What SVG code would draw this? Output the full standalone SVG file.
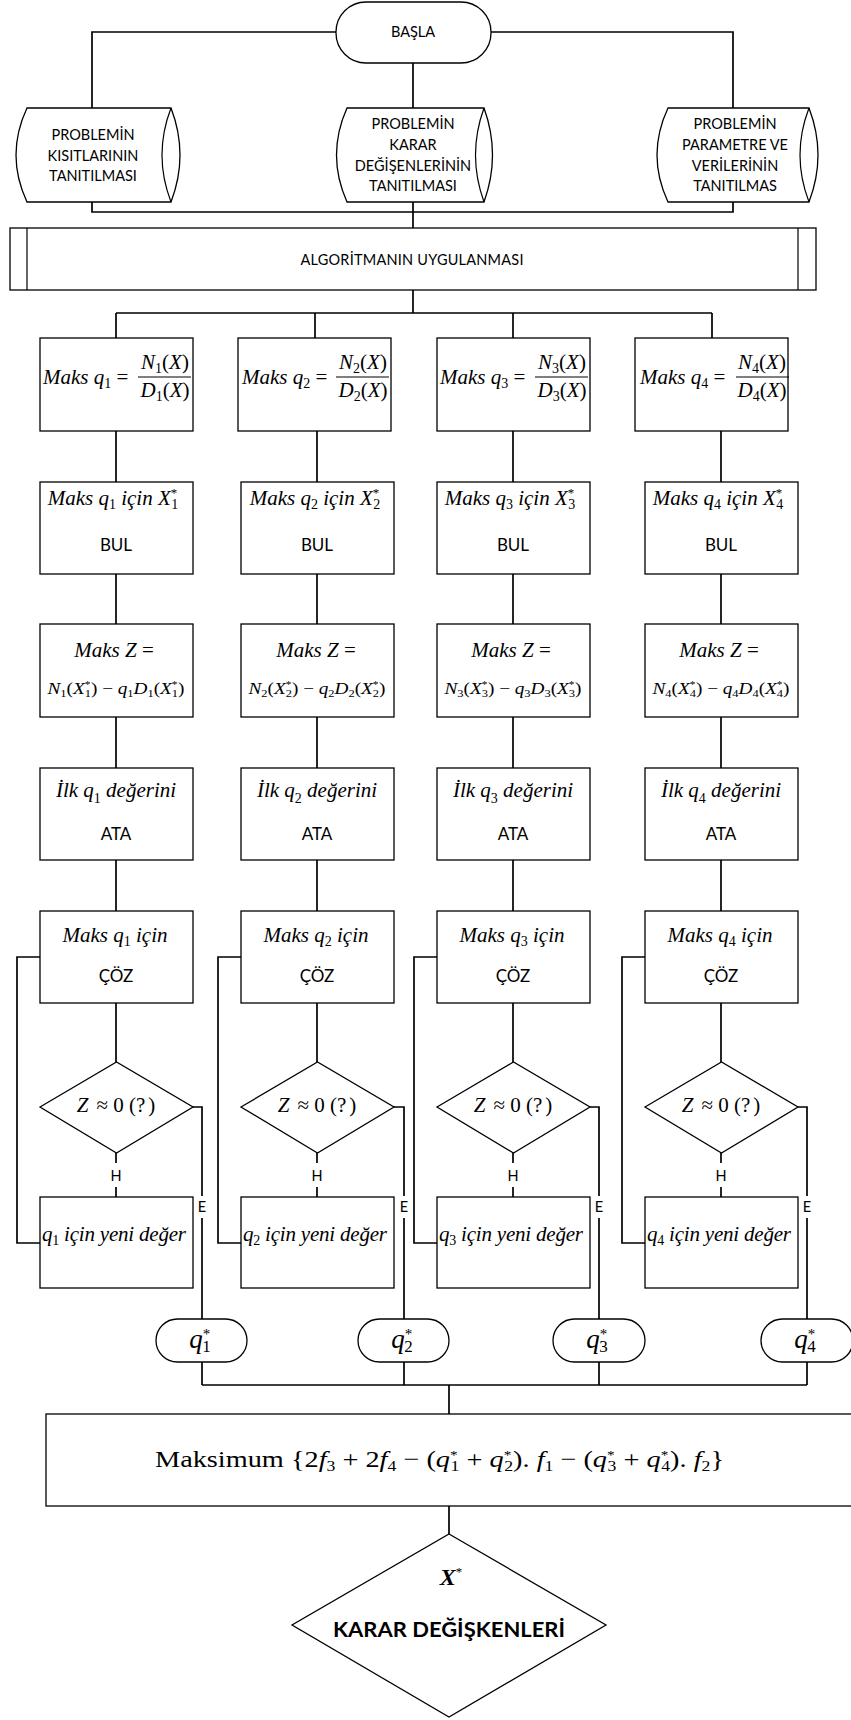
<svg xmlns="http://www.w3.org/2000/svg" width="851" height="1720" viewBox="0 0 851 1720">
<defs>
<style>
.bx{fill:#fff;stroke:#000;stroke-width:1.3}
.ln{fill:none;stroke:#000;stroke-width:1.7}
.th{fill:none;stroke:#000;stroke-width:1.2}
.s{font-family:Lato,"Open Sans","Liberation Sans",sans-serif;font-size:14.5px;fill:#000}
.s17{font-family:Lato,"Open Sans","Liberation Sans",sans-serif;font-size:17px;fill:#000}
.mu{font-family:"Liberation Serif","DejaVu Serif",serif;font-size:21px;fill:#000}
.i{font-style:italic}
.f10{font-size:10px}.f11{font-size:11px}.f13{font-size:13px}.f14{font-size:14px}.f15{font-size:15px}.f17{font-size:17px}
.mid{text-anchor:middle}
</style>
</defs>
<rect width="851" height="1720" fill="#fff"/>

<g id="connectors">
<path class="ln" d="M336 32H92V108M491 32H733V108M413 63V108"/>
<path class="ln" d="M92 202V212H733V202M413 202V228"/>
<path class="ln" d="M413 290V313M116 313H712M116 313V338M315 313V338M513 313V338M712 313V338"/>
<path class="ln" d="M116 431V482M116 574V624M116 717V768M116 860V911M116 1003V1062M116 1153V1163M116 1187V1197"/>
<path class="ln" d="M317 431V482M317 574V624M317 717V768M317 860V911M317 1003V1062M317 1153V1163M317 1187V1197"/>
<path class="ln" d="M513 431V482M513 574V624M513 717V768M513 860V911M513 1003V1062M513 1153V1163M513 1187V1197"/>
<path class="ln" d="M721 431V482M721 574V624M721 717V768M721 860V911M721 1003V1062M721 1153V1163M721 1187V1197"/>
<path class="ln" d="M40 1243H17V957H40M241 1243H218V957H241M437 1243H414V957H437M645 1243H622V957H645"/>
<path class="ln" d="M193 1107H202V1196M202 1218V1319M394 1107H404V1196M404 1218V1319M590 1107H599V1196M599 1218V1319M798 1107H807V1196M807 1218V1319"/>
<path class="ln" d="M202 1362V1385M404 1362V1385M599 1362V1385M807 1362V1385M202 1385H807M449 1385V1414M449 1506V1534"/>
</g>

<g id="basla">
<rect class="bx" x="336" y="2" width="155" height="61" rx="30"/>
<text class="s mid" x="413" y="37">BAŞLA</text>
</g>

<g id="kisit">
<path class="bx" d="M27 108H171Q189 155 171 202H27Q5 155 27 108Z"/>
<path class="th" d="M171 108Q153 155 171 202"/>
<text class="s mid" x="93" y="140">PROBLEMİN</text>
<text class="s mid" x="93" y="161">KISITLARININ</text>
<text class="s mid" x="93" y="181">TANITILMASI</text>
</g>
<g id="karar">
<path class="bx" d="M347 108H484Q501 155 484 202H347Q326 155 347 108Z"/>
<path class="th" d="M484 108Q467 155 484 202"/>
<text class="s mid" x="413" y="129">PROBLEMİN</text>
<text class="s mid" x="413" y="150">KARAR</text>
<text class="s mid" x="413" y="171">DEĞİŞENLERİNİN</text>
<text class="s mid" x="413" y="191">TANITILMASI</text>
</g>
<g id="param">
<path class="bx" d="M668 108H809Q827 155 809 202H668Q646 155 668 108Z"/>
<path class="th" d="M809 108Q791 155 809 202"/>
<text class="s mid" x="735" y="129">PROBLEMİN</text>
<text class="s mid" x="735" y="150">PARAMETRE VE</text>
<text class="s mid" x="735" y="171">VERİLERİNİN</text>
<text class="s mid" x="735" y="191">TANITILMAS</text>
</g>

<g id="algoritma">
<rect class="bx" x="10" y="228" width="806" height="62"/>
<path class="th" d="M27 228V290M798 228V290"/>
<text class="s mid" x="412" y="265" textLength="223">ALGORİTMANIN UYGULANMASI</text>
</g>

<!-- column 1 -->
<g id="c1-oran">
<rect class="bx" x="40" y="338" width="153" height="93"/>
<text class="mu" x="43" y="384"><tspan class="i">Maks q</tspan><tspan class="f14" dy="4">1</tspan><tspan dy="-4"> =</tspan></text>
<text class="mu mid" x="165" y="369"><tspan class="i">N</tspan><tspan class="f14" dy="4">1</tspan><tspan dy="-4">(</tspan><tspan class="i">X</tspan>)</text>
<path class="th" d="M138 377H191"/>
<text class="mu mid" x="165" y="397"><tspan class="i">D</tspan><tspan class="f14" dy="4">1</tspan><tspan dy="-4">(</tspan><tspan class="i">X</tspan>)</text>
</g>
<g id="c1-bul">
<rect class="bx" x="40" y="482" width="153" height="92"/>
<text class="mu mid" x="113" y="505"><tspan class="i">Maks q</tspan><tspan class="f14" dy="4">1</tspan><tspan class="i" dy="-4"> için X</tspan><tspan class="f13" dy="-8">*</tspan><tspan class="f14" dx="-6" dy="12">1</tspan></text>
<text class="s17 mid" x="116" y="551">BUL</text>
</g>
<g id="c1-z">
<rect class="bx" x="40" y="624" width="153" height="93"/>
<text class="mu mid" x="114" y="657"><tspan class="i">Maks Z</tspan> =</text>
<text class="mu mid" style="font-size:17px" x="116" y="694" textLength="137" lengthAdjust="spacingAndGlyphs"><tspan class="i">N</tspan><tspan class="f11" dy="3">1</tspan><tspan dy="-3">(</tspan><tspan class="i">X</tspan><tspan class="f10" dy="-6">*</tspan><tspan class="f11" dx="-5" dy="9">1</tspan><tspan dy="-3">) − </tspan><tspan class="i">q</tspan><tspan class="f11" dy="3">1</tspan><tspan class="i" dy="-3">D</tspan><tspan class="f11" dy="3">1</tspan><tspan dy="-3">(</tspan><tspan class="i">X</tspan><tspan class="f10" dy="-6">*</tspan><tspan class="f11" dx="-5" dy="9">1</tspan><tspan dy="-3">)</tspan></text>
</g>
<g id="c1-ata">
<rect class="bx" x="40" y="768" width="153" height="92"/>
<text class="mu mid" x="116" y="797"><tspan class="i">İlk q</tspan><tspan class="f14" dy="6">1</tspan><tspan class="i" dy="-6"> değerini</tspan></text>
<text class="s17 mid" x="116" y="840">ATA</text>
</g>
<g id="c1-coz">
<rect class="bx" x="40" y="911" width="153" height="92"/>
<text class="mu mid" x="115" y="942"><tspan class="i">Maks q</tspan><tspan class="f14" dy="4">1</tspan><tspan class="i" dy="-4"> için</tspan></text>
<text class="s17 mid" x="116" y="982">ÇÖZ</text>
</g>
<g id="c1-karar">
<path class="bx" d="M40 1107L116.5 1062L193 1107L116.5 1153Z"/>
<text class="mu mid" x="116" y="1112"><tspan class="i">Z</tspan><tspan dx="8">≈ 0 (?</tspan><tspan dx="3">)</tspan></text>
</g>
<g id="c1-yeni">
<rect class="bx" x="40" y="1197" width="153" height="91"/>
<text class="mu" x="42" y="1241" textLength="144"><tspan class="i">q</tspan><tspan class="f14" dy="4">1</tspan><tspan class="i" dy="-4"> için yeni değer</tspan></text>
</g>
<g id="c1-q">
<rect class="bx" x="156" y="1319" width="91" height="43" rx="21.5"/>
<text class="mu mid" style="font-size:27px" x="200" y="1348"><tspan class="i">q</tspan><tspan class="f15" dy="-9">*</tspan><tspan class="f17" dx="-8" dy="13">1</tspan></text>
</g>

<!-- column 2 -->
<g id="c2-oran">
<rect class="bx" x="238" y="338" width="153" height="93"/>
<text class="mu" x="242" y="384"><tspan class="i">Maks q</tspan><tspan class="f14" dy="4">2</tspan><tspan dy="-4"> =</tspan></text>
<text class="mu mid" x="363" y="369"><tspan class="i">N</tspan><tspan class="f14" dy="4">2</tspan><tspan dy="-4">(</tspan><tspan class="i">X</tspan>)</text>
<path class="th" d="M336 377H389"/>
<text class="mu mid" x="363" y="397"><tspan class="i">D</tspan><tspan class="f14" dy="4">2</tspan><tspan dy="-4">(</tspan><tspan class="i">X</tspan>)</text>
</g>
<g id="c2-bul">
<rect class="bx" x="241" y="482" width="153" height="92"/>
<text class="mu mid" x="315" y="505"><tspan class="i">Maks q</tspan><tspan class="f14" dy="4">2</tspan><tspan class="i" dy="-4"> için X</tspan><tspan class="f13" dy="-8">*</tspan><tspan class="f14" dx="-6" dy="12">2</tspan></text>
<text class="s17 mid" x="317" y="551">BUL</text>
</g>
<g id="c2-z">
<rect class="bx" x="241" y="624" width="153" height="93"/>
<text class="mu mid" x="316" y="657"><tspan class="i">Maks Z</tspan> =</text>
<text class="mu mid" style="font-size:17px" x="317" y="694" textLength="137" lengthAdjust="spacingAndGlyphs"><tspan class="i">N</tspan><tspan class="f11" dy="3">2</tspan><tspan dy="-3">(</tspan><tspan class="i">X</tspan><tspan class="f10" dy="-6">*</tspan><tspan class="f11" dx="-5" dy="9">2</tspan><tspan dy="-3">) − </tspan><tspan class="i">q</tspan><tspan class="f11" dy="3">2</tspan><tspan class="i" dy="-3">D</tspan><tspan class="f11" dy="3">2</tspan><tspan dy="-3">(</tspan><tspan class="i">X</tspan><tspan class="f10" dy="-6">*</tspan><tspan class="f11" dx="-5" dy="9">2</tspan><tspan dy="-3">)</tspan></text>
</g>
<g id="c2-ata">
<rect class="bx" x="241" y="768" width="153" height="92"/>
<text class="mu mid" x="317" y="797"><tspan class="i">İlk q</tspan><tspan class="f14" dy="6">2</tspan><tspan class="i" dy="-6"> değerini</tspan></text>
<text class="s17 mid" x="317" y="840">ATA</text>
</g>
<g id="c2-coz">
<rect class="bx" x="241" y="911" width="153" height="92"/>
<text class="mu mid" x="316" y="942"><tspan class="i">Maks q</tspan><tspan class="f14" dy="4">2</tspan><tspan class="i" dy="-4"> için</tspan></text>
<text class="s17 mid" x="317" y="982">ÇÖZ</text>
</g>
<g id="c2-karar">
<path class="bx" d="M241 1107L317.5 1062L394 1107L317.5 1153Z"/>
<text class="mu mid" x="317" y="1112"><tspan class="i">Z</tspan><tspan dx="8">≈ 0 (?</tspan><tspan dx="3">)</tspan></text>
</g>
<g id="c2-yeni">
<rect class="bx" x="241" y="1197" width="153" height="91"/>
<text class="mu" x="243" y="1241" textLength="144"><tspan class="i">q</tspan><tspan class="f14" dy="4">2</tspan><tspan class="i" dy="-4"> için yeni değer</tspan></text>
</g>
<g id="c2-q">
<rect class="bx" x="358" y="1319" width="91" height="43" rx="21.5"/>
<text class="mu mid" style="font-size:27px" x="402" y="1348"><tspan class="i">q</tspan><tspan class="f15" dy="-9">*</tspan><tspan class="f17" dx="-8" dy="13">2</tspan></text>
</g>

<!-- column 3 -->
<g id="c3-oran">
<rect class="bx" x="437" y="338" width="153" height="93"/>
<text class="mu" x="440" y="384"><tspan class="i">Maks q</tspan><tspan class="f14" dy="4">3</tspan><tspan dy="-4"> =</tspan></text>
<text class="mu mid" x="562" y="369"><tspan class="i">N</tspan><tspan class="f14" dy="4">3</tspan><tspan dy="-4">(</tspan><tspan class="i">X</tspan>)</text>
<path class="th" d="M535 377H588"/>
<text class="mu mid" x="562" y="397"><tspan class="i">D</tspan><tspan class="f14" dy="4">3</tspan><tspan dy="-4">(</tspan><tspan class="i">X</tspan>)</text>
</g>
<g id="c3-bul">
<rect class="bx" x="437" y="482" width="153" height="92"/>
<text class="mu mid" x="510" y="505"><tspan class="i">Maks q</tspan><tspan class="f14" dy="4">3</tspan><tspan class="i" dy="-4"> için X</tspan><tspan class="f13" dy="-8">*</tspan><tspan class="f14" dx="-6" dy="12">3</tspan></text>
<text class="s17 mid" x="513" y="551">BUL</text>
</g>
<g id="c3-z">
<rect class="bx" x="437" y="624" width="153" height="93"/>
<text class="mu mid" x="511" y="657"><tspan class="i">Maks Z</tspan> =</text>
<text class="mu mid" style="font-size:17px" x="513" y="694" textLength="137" lengthAdjust="spacingAndGlyphs"><tspan class="i">N</tspan><tspan class="f11" dy="3">3</tspan><tspan dy="-3">(</tspan><tspan class="i">X</tspan><tspan class="f10" dy="-6">*</tspan><tspan class="f11" dx="-5" dy="9">3</tspan><tspan dy="-3">) − </tspan><tspan class="i">q</tspan><tspan class="f11" dy="3">3</tspan><tspan class="i" dy="-3">D</tspan><tspan class="f11" dy="3">3</tspan><tspan dy="-3">(</tspan><tspan class="i">X</tspan><tspan class="f10" dy="-6">*</tspan><tspan class="f11" dx="-5" dy="9">3</tspan><tspan dy="-3">)</tspan></text>
</g>
<g id="c3-ata">
<rect class="bx" x="437" y="768" width="153" height="92"/>
<text class="mu mid" x="513" y="797"><tspan class="i">İlk q</tspan><tspan class="f14" dy="6">3</tspan><tspan class="i" dy="-6"> değerini</tspan></text>
<text class="s17 mid" x="513" y="840">ATA</text>
</g>
<g id="c3-coz">
<rect class="bx" x="437" y="911" width="153" height="92"/>
<text class="mu mid" x="512" y="942"><tspan class="i">Maks q</tspan><tspan class="f14" dy="4">3</tspan><tspan class="i" dy="-4"> için</tspan></text>
<text class="s17 mid" x="513" y="982">ÇÖZ</text>
</g>
<g id="c3-karar">
<path class="bx" d="M437 1107L513.5 1062L590 1107L513.5 1153Z"/>
<text class="mu mid" x="513" y="1112"><tspan class="i">Z</tspan><tspan dx="8">≈ 0 (?</tspan><tspan dx="3">)</tspan></text>
</g>
<g id="c3-yeni">
<rect class="bx" x="437" y="1197" width="153" height="91"/>
<text class="mu" x="439" y="1241" textLength="144"><tspan class="i">q</tspan><tspan class="f14" dy="4">3</tspan><tspan class="i" dy="-4"> için yeni değer</tspan></text>
</g>
<g id="c3-q">
<rect class="bx" x="553" y="1319" width="92" height="43" rx="21.5"/>
<text class="mu mid" style="font-size:27px" x="597" y="1348"><tspan class="i">q</tspan><tspan class="f15" dy="-9">*</tspan><tspan class="f17" dx="-8" dy="13">3</tspan></text>
</g>

<!-- column 4 -->
<g id="c4-oran">
<rect class="bx" x="635" y="338" width="153" height="93"/>
<text class="mu" x="640" y="384"><tspan class="i">Maks q</tspan><tspan class="f14" dy="4">4</tspan><tspan dy="-4"> =</tspan></text>
<text class="mu mid" x="762" y="369"><tspan class="i">N</tspan><tspan class="f14" dy="4">4</tspan><tspan dy="-4">(</tspan><tspan class="i">X</tspan>)</text>
<path class="th" d="M736 377H789"/>
<text class="mu mid" x="762" y="397"><tspan class="i">D</tspan><tspan class="f14" dy="4">4</tspan><tspan dy="-4">(</tspan><tspan class="i">X</tspan>)</text>
</g>
<g id="c4-bul">
<rect class="bx" x="645" y="482" width="153" height="92"/>
<text class="mu mid" x="718" y="505"><tspan class="i">Maks q</tspan><tspan class="f14" dy="4">4</tspan><tspan class="i" dy="-4"> için X</tspan><tspan class="f13" dy="-8">*</tspan><tspan class="f14" dx="-6" dy="12">4</tspan></text>
<text class="s17 mid" x="721" y="551">BUL</text>
</g>
<g id="c4-z">
<rect class="bx" x="645" y="624" width="153" height="93"/>
<text class="mu mid" x="719" y="657"><tspan class="i">Maks Z</tspan> =</text>
<text class="mu mid" style="font-size:17px" x="721" y="694" textLength="137" lengthAdjust="spacingAndGlyphs"><tspan class="i">N</tspan><tspan class="f11" dy="3">4</tspan><tspan dy="-3">(</tspan><tspan class="i">X</tspan><tspan class="f10" dy="-6">*</tspan><tspan class="f11" dx="-5" dy="9">4</tspan><tspan dy="-3">) − </tspan><tspan class="i">q</tspan><tspan class="f11" dy="3">4</tspan><tspan class="i" dy="-3">D</tspan><tspan class="f11" dy="3">4</tspan><tspan dy="-3">(</tspan><tspan class="i">X</tspan><tspan class="f10" dy="-6">*</tspan><tspan class="f11" dx="-5" dy="9">4</tspan><tspan dy="-3">)</tspan></text>
</g>
<g id="c4-ata">
<rect class="bx" x="645" y="768" width="153" height="92"/>
<text class="mu mid" x="721" y="797"><tspan class="i">İlk q</tspan><tspan class="f14" dy="6">4</tspan><tspan class="i" dy="-6"> değerini</tspan></text>
<text class="s17 mid" x="721" y="840">ATA</text>
</g>
<g id="c4-coz">
<rect class="bx" x="645" y="911" width="153" height="92"/>
<text class="mu mid" x="720" y="942"><tspan class="i">Maks q</tspan><tspan class="f14" dy="4">4</tspan><tspan class="i" dy="-4"> için</tspan></text>
<text class="s17 mid" x="721" y="982">ÇÖZ</text>
</g>
<g id="c4-karar">
<path class="bx" d="M645 1107L721.5 1062L798 1107L721.5 1153Z"/>
<text class="mu mid" x="721" y="1112"><tspan class="i">Z</tspan><tspan dx="8">≈ 0 (?</tspan><tspan dx="3">)</tspan></text>
</g>
<g id="c4-yeni">
<rect class="bx" x="645" y="1197" width="153" height="91"/>
<text class="mu" x="647" y="1241" textLength="144"><tspan class="i">q</tspan><tspan class="f14" dy="4">4</tspan><tspan class="i" dy="-4"> için yeni değer</tspan></text>
</g>
<g id="c4-q">
<rect class="bx" x="761" y="1319" width="92" height="43" rx="21.5"/>
<text class="mu mid" style="font-size:27px" x="805" y="1348"><tspan class="i">q</tspan><tspan class="f15" dy="-9">*</tspan><tspan class="f17" dx="-8" dy="13">4</tspan></text>
</g>

<g id="labels">
<text class="s mid" x="116" y="1181">H</text>
<text class="s mid" x="317" y="1181">H</text>
<text class="s mid" x="513" y="1181">H</text>
<text class="s mid" x="721" y="1181">H</text>
<text class="s mid" x="202" y="1212">E</text>
<text class="s mid" x="404" y="1212">E</text>
<text class="s mid" x="599" y="1212">E</text>
<text class="s mid" x="807" y="1212">E</text>
</g>

<g id="amac">
<rect class="bx" x="46" y="1414" width="806" height="92"/>
<text class="mu" style="font-size:24px" x="155" y="1467" textLength="569" lengthAdjust="spacingAndGlyphs">Maksimum {2<tspan class="i">f</tspan><tspan class="f15" dy="4">3</tspan><tspan dy="-4"> + 2</tspan><tspan class="i">f</tspan><tspan class="f15" dy="4">4</tspan><tspan dy="-4"> − (</tspan><tspan class="i">q</tspan><tspan class="f13" dy="-8">*</tspan><tspan class="f15" dx="-6" dy="12">1</tspan><tspan dy="-4"> + </tspan><tspan class="i">q</tspan><tspan class="f13" dy="-8">*</tspan><tspan class="f15" dx="-6" dy="12">2</tspan><tspan dy="-4">). </tspan><tspan class="i">f</tspan><tspan class="f15" dy="4">1</tspan><tspan dy="-4"> − (</tspan><tspan class="i">q</tspan><tspan class="f13" dy="-8">*</tspan><tspan class="f15" dx="-6" dy="12">3</tspan><tspan dy="-4"> + </tspan><tspan class="i">q</tspan><tspan class="f13" dy="-8">*</tspan><tspan class="f15" dx="-6" dy="12">4</tspan><tspan dy="-4">). </tspan><tspan class="i">f</tspan><tspan class="f15" dy="4">2</tspan><tspan dy="-4">}</tspan></text>
</g>

<g id="sonuc">
<path class="bx" d="M449 1534L606 1625L449 1717L292 1625Z"/>
<text class="mu mid" style="font-size:24px;font-weight:bold" x="451" y="1585"><tspan class="i">X</tspan><tspan class="f13" style="font-weight:normal" dy="-9">*</tspan></text>
<text class="s mid" style="font-size:21px;font-weight:bold" x="449" y="1637" textLength="232" lengthAdjust="spacingAndGlyphs">KARAR DEĞİŞKENLERİ</text>
</g>
</svg>
